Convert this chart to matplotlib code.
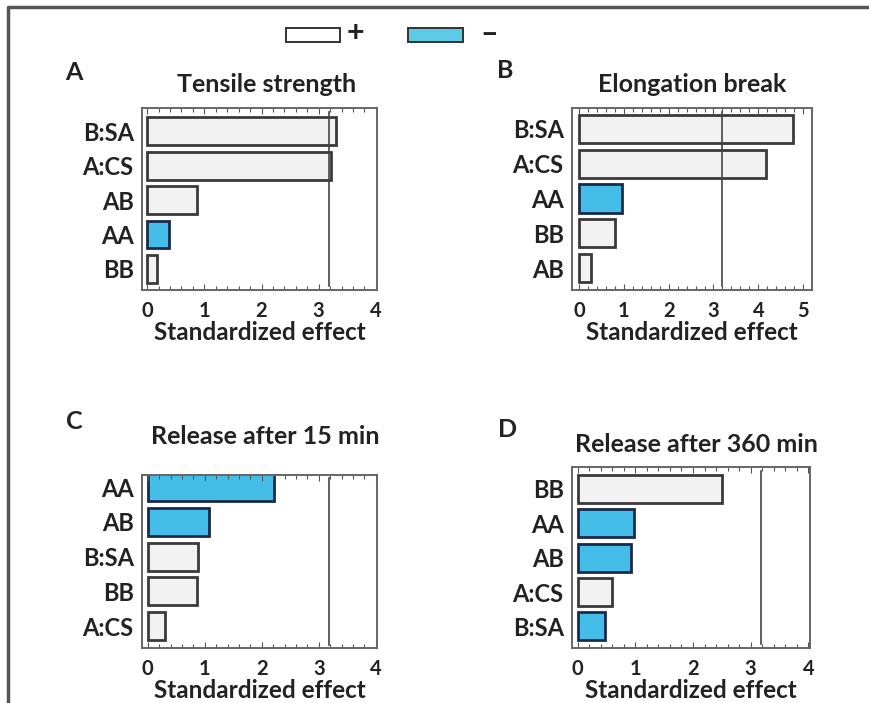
import matplotlib
matplotlib.use("Agg")
import matplotlib.pyplot as plt
from matplotlib.patches import Rectangle
from matplotlib.lines import Line2D
from matplotlib.ticker import MultipleLocator

plt.rcParams['font.family'] = ['Lato', 'DejaVu Sans']

# Pareto charts of standardized effects (top to bottom)
terms_a = ["B:SA", "A:CS", "AB", "AA", "BB"]
effect_a = [3.30, 3.22, 0.87, 0.38, 0.17]
sign_a = ["+", "+", "+", "-", "+"]

terms_b = ["B:SA", "A:CS", "AA", "BB", "AB"]
effect_b = [4.78, 4.17, 0.96, 0.80, 0.27]
sign_b = ["+", "+", "-", "+", "+"]

terms_c = ["AA", "AB", "B:SA", "BB", "A:CS"]
effect_c = [2.21, 1.08, 0.89, 0.87, 0.31]
sign_c = ["-", "-", "+", "+", "+"]

terms_d = ["BB", "AA", "AB", "A:CS", "B:SA"]
effect_d = [2.50, 0.97, 0.92, 0.59, 0.47]
sign_d = ["+", "-", "-", "+", "-"]

titles = ["Tensile strength", "Elongation break",
          "Release after 15 min", "Release after 360 min"]
letters = ["A", "B", "C", "D"]
critical_t = 3.18

W, H = 869, 703
fig = plt.figure(figsize=(W / 100, H / 100), dpi=100)

pos_fill, pos_edge = "#f2f2f2", "#3a3a3a"
neg_fill, neg_edge = "#45bde9", "#1b2a4a"
txt = "#222222"


def px_axes(left, top, right, bottom):
    return fig.add_axes([left / W, 1 - bottom / H, (right - left) / W, (bottom - top) / H])


# (left, top, right, bottom) in pixels, xlim, ylim, xticks
panels = [
    ((142, 108, 377, 290), (-0.09, 4.02), (4.61, -0.67), [0, 1, 2, 3, 4]),
    ((572, 108, 812, 290), (-0.16, 5.2), (4.63, -0.60), [0, 1, 2, 3, 4, 5]),
    ((142, 475, 377, 648), (-0.10, 4.02), (4.63, -0.35), [0, 1, 2, 3, 4]),
    ((572, 467, 810, 648), (-0.10, 4.03), (4.63, -0.64), [0, 1, 2, 3, 4]),
]
title_xy = [(267, 85), (692, 85), (265, 437), (696, 445)]
letter_xy = [(74, 73), (505, 70), (74, 422), (508, 429)]
data = [(terms_a, effect_a, sign_a), (terms_b, effect_b, sign_b),
        (terms_c, effect_c, sign_c), (terms_d, effect_d, sign_d)]

for (box, xl, yl, xt), (terms, vals, signs) in zip(panels, data):
    ax = px_axes(*box)
    ypos = list(range(len(terms)))
    fills = [pos_fill if s == "+" else neg_fill for s in signs]
    edges = [pos_edge if s == "+" else neg_edge for s in signs]
    ax.barh(ypos, vals, height=0.81, color=fills, edgecolor=edges, linewidth=2.0)
    ax.axvline(critical_t, ymin=0.02, ymax=0.98, color="#444444", lw=1.2)
    ax.set_xlim(*xl)
    ax.set_ylim(*yl)
    ax.set_yticks(ypos)
    ax.set_yticklabels(terms, fontsize=17, fontweight="bold", color=txt)
    ax.set_xticks(xt)
    ax.set_xticklabels([str(t) for t in xt], fontsize=14.5, fontweight="bold", color=txt)
    ax.xaxis.set_minor_locator(MultipleLocator(0.2))
    ax.tick_params(axis="x", which="both", direction="in", top=True, bottom=True,
                   length=3, width=0.8, color="#555555", pad=8)
    ax.tick_params(axis="x", which="major", length=4)
    ax.tick_params(axis="y", length=0, pad=6)
    for s in ax.spines.values():
        s.set_color("#666666")
        s.set_linewidth(1.4)
    ax.set_xlabel("Standardized effect", fontsize=17.5, fontweight="bold", color=txt, labelpad=0)

# titles and panel letters
for title, (x, y) in zip(titles, title_xy):
    fig.text(x / W, 1 - y / H, title, fontsize=18, fontweight="bold", color=txt,
             ha="center", va="center")
for letter, (x, y) in zip(letters, letter_xy):
    fig.text(x / W, 1 - y / H, letter, fontsize=18, fontweight="bold", color=txt,
             ha="center", va="center")

# legend at the top
fig.patches.append(Rectangle((286 / W, 1 - 42 / H), 54 / W, 14 / H, transform=fig.transFigure,
                             facecolor="white", edgecolor="#333333", lw=1.4))
fig.text(355 / W, 1 - 33 / H, "+", fontsize=22, fontweight="bold", color=txt, ha="center", va="center")
fig.patches.append(Rectangle((408 / W, 1 - 42 / H), 55 / W, 14 / H, transform=fig.transFigure,
                             facecolor="#5ecbe6", edgecolor="#333333", lw=1.4))
fig.text(489 / W, 1 - 34 / H, "–", fontsize=22, fontweight="bold", color=txt, ha="center", va="center")

# outer frame (top and left)
fig.lines.append(Line2D([8 / W, 8 / W, 1], [0, 1 - 7 / H, 1 - 7 / H], transform=fig.transFigure,
                        color="#555555", lw=2.5))

fig.savefig("out.png", dpi=100, facecolor="white")
